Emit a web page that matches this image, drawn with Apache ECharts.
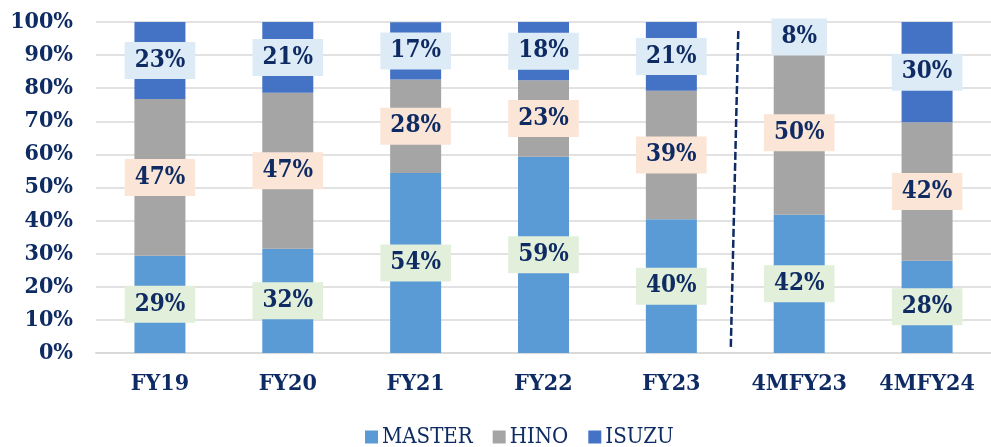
<!DOCTYPE html>
<html>
<head>
<meta charset="utf-8">
<script src="https://cdn.jsdelivr.net/npm/echarts@6/dist/echarts.min.js"></script>
<style>
  html, body { margin: 0; padding: 0; background: #fff; }
  #chart { width: 991px; height: 447px; }
</style>
</head>
<body>
<div id="chart"></div>
<script>
// share of each brand, %
const categories = ['FY19', 'FY20', 'FY21', 'FY22', 'FY23', '4MFY23', '4MFY24'];
const master = [29.4, 31.5, 54.4, 59.3, 40.4, 41.8, 27.9];
const hino = [47.3, 47.1, 28.2, 23.1, 38.8, 49.5, 41.8];
const isuzu = [23.3, 21.4, 17.3, 17.6, 20.8, 8.4, 30.3];

const NAVY = '#0F2B63';
const FONT = "'DejaVu Serif Condensed', 'DejaVu Serif'";

const chart = echarts.init(document.getElementById('chart'));

function makeSeries(name, data, color, labelBg) {
    return {
        name: name,
        type: 'bar',
        stack: 'share',
        data: data,
        barWidth: 51,
        itemStyle: { color: color },
        label: {
            show: true,
            position: 'inside',
            formatter: p => Math.round(p.value) + '%',
            color: NAVY,
            fontFamily: FONT,
            fontWeight: 'bold',
            fontSize: 24,
            lineHeight: 24,
            backgroundColor: labelBg,
            borderRadius: 0,
            padding: [7, 10, 6, 10]
        }
    };
}

chart.setOption({
    animation: false,
    grid: { left: 96, top: 22, bottom: 94, width: 900 },
    legend: {
        left: 360,
        top: 421,
        itemWidth: 13,
        itemHeight: 13,
        itemGap: 20,
        icon: 'rect',
        textStyle: { color: NAVY, fontFamily: FONT, fontSize: 22, padding: [0, 0, 0, -1] },
        data: ['MASTER', 'HINO', 'ISUZU']
    },
    xAxis: {
        type: 'category',
        data: categories,
        axisTick: { show: false },
        axisLine: { lineStyle: { color: '#D9D9D9', width: 2 } },
        axisLabel: {
            margin: 20,
            color: NAVY,
            fontFamily: FONT,
            fontWeight: 'bold',
            fontSize: 23
        }
    },
    yAxis: {
        type: 'value',
        min: 0,
        max: 100,
        interval: 10,
        axisLine: { show: false },
        axisTick: { show: false },
        splitLine: { lineStyle: { color: '#D9D9D9', width: 1.5 } },
        axisLabel: {
            margin: 23,
            formatter: '{value}%',
            color: NAVY,
            fontFamily: FONT,
            fontWeight: 'bold',
            fontSize: 23
        }
    },
    series: [
        makeSeries('MASTER', master, '#5B9BD5', '#E2EFDA'),
        makeSeries('HINO', hino, '#A5A5A5', '#FBE5D6'),
        makeSeries('ISUZU', isuzu, '#4472C4', '#DDEBF7')
    ]
});

// dashed divider between full years and the 4-month figures
const x4 = chart.convertToPixel({ xAxisIndex: 0 }, 4);
const x5 = chart.convertToPixel({ xAxisIndex: 0 }, 5);
const midX = (x4 + x5) / 2;
const yTop = chart.convertToPixel({ yAxisIndex: 0 }, 97.3);
const yBot = chart.convertToPixel({ yAxisIndex: 0 }, 1.5);
chart.setOption({
    graphic: [{
        type: 'line',
        shape: { x1: midX + 3, y1: yTop, x2: midX - 4.5, y2: yBot },
        style: { stroke: NAVY, lineWidth: 2.5, lineDash: [8, 3] },
        z: 10
    }]
});
</script>
</body>
</html>
